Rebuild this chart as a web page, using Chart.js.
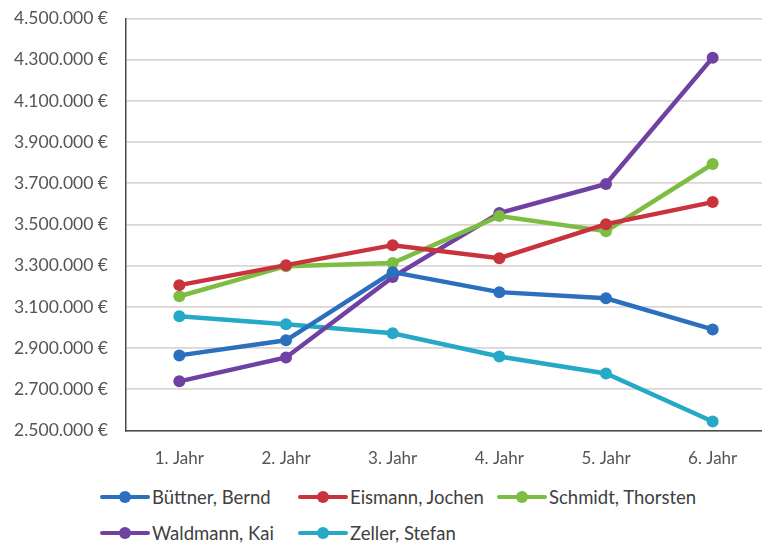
<!DOCTYPE html>
<html>
<head>
<meta charset="utf-8">
<script src="https://cdn.jsdelivr.net/npm/chart.js@4"></script>
<style>
  html, body { margin: 0; padding: 0; background: #fff; overflow: hidden; }
  #wrap { position: relative; width: 772px; height: 545px; overflow: hidden; }
  #box { position: absolute; left: 0; top: -10px; width: 772px; height: 489px; }
  #legend { position: absolute; left: 100px; top: 482px; font-family: Lato, "Noto Sans", sans-serif; font-size: 18.5px; color: #404040; }
  .item { position: absolute; display: flex; align-items: center; white-space: nowrap; height: 30px; }
  .mark { position: relative; width: 52px; height: 30px; }
  .mark .ln { position: absolute; left: 0; right: 2px; top: 13px; height: 4px; border-radius: 2px; }
  .mark .dt { position: absolute; left: 19px; top: 9px; width: 12px; height: 12px; border-radius: 50%; }
</style>
</head>
<body>
<div id="wrap">
  <div id="box"><canvas id="chart"></canvas></div>
  <div id="legend"></div>
</div>
<script>
// ==================== DATA ====================
const years = ['1. Jahr', '2. Jahr', '3. Jahr', '4. Jahr', '5. Jahr', '6. Jahr'];

const buettner = [2865000, 2938000, 3269000, 3172000, 3142000, 2991000];
const eismann  = [3206000, 3303000, 3400000, 3337000, 3502000, 3609000];
const schmidt  = [3152000, 3298000, 3313000, 3541000, 3468000, 3794000];
const waldmann = [2739000, 2855000, 3245000, 3556000, 3697000, 4310000];
const zeller   = [3055000, 3016000, 2972000, 2860000, 2777000, 2544000];

const yMin = 2500000;
const yMax = 4500000;
const yStep = 200000;

// ==================== THEME ====================
const COLORS = {
    blue:   '#2b6fbe',
    red:    '#c9333d',
    green:  '#7dbd42',
    purple: '#6f41a3',
    teal:   '#25a9c6',
    text:   '#555555',
    grid:   '#dcd5d5',
    axis:   '#4a4a4a'
};

const series = [
    { label: 'Büttner, Bernd',    data: buettner, color: COLORS.blue },
    { label: 'Eismann, Jochen',   data: eismann,  color: COLORS.red },
    { label: 'Schmidt, Thorsten', data: schmidt,  color: COLORS.green },
    { label: 'Waldmann, Kai',     data: waldmann, color: COLORS.purple },
    { label: 'Zeller, Stefan',    data: zeller,   color: COLORS.teal }
];

// 4500000 -> "4.500.000 €"
function euro(v) {
    return String(Math.round(v)).replace(/\B(?=(\d{3})+(?!\d))/g, '.') + ' €';
}

Chart.defaults.font.family = "Lato, 'Noto Sans', sans-serif";
Chart.defaults.color = COLORS.text;

const ctx = document.getElementById('chart').getContext('2d');
const chart = new Chart(ctx, {
    type: 'line',
    data: {
        labels: years,
        datasets: series.map(s => ({
            label: s.label,
            data: s.data,
            borderColor: s.color,
            backgroundColor: s.color,
            borderWidth: 4.5,
            pointRadius: 6,
            pointBorderWidth: 0,
            pointBackgroundColor: s.color,
            tension: 0,
            fill: false
        }))
    },
    options: {
        responsive: true,
        maintainAspectRatio: false,
        animation: false,
        layout: { padding: { top: 0, left: 0, right: 0, bottom: 0 } },
        plugins: {
            legend: { display: false },
            tooltip: { enabled: false }
        },
        scales: {
            x: {
                offset: true,
                grid: { display: false },
                border: { color: COLORS.axis, width: 1.5 },
                ticks: { font: { size: 17 }, padding: 10, color: COLORS.text }
            },
            y: {
                min: yMin,
                max: yMax,
                ticks: {
                    stepSize: yStep,
                    font: { size: 17.5 },
                    padding: 18,
                    color: COLORS.text,
                    callback: v => euro(v)
                },
                grid: { color: COLORS.grid, lineWidth: 1.8, drawTicks: false },
                border: { color: COLORS.axis, width: 1.5 },
                afterFit: scale => { scale.width = 126; }
            }
        }
    }
});

// ==================== HTML LEGEND ====================
const legendCols = [0, 198, 397];
const legendRows = [0, 36];
const legendEl = document.getElementById('legend');
series.forEach((s, i) => {
    const item = document.createElement('div');
    item.className = 'item';
    item.style.left = legendCols[i % 3] + 'px';
    item.style.top = legendRows[Math.floor(i / 3)] + 'px';
    item.innerHTML = `<div class="mark"><div class="ln" style="background:${s.color}"></div>` +
        `<div class="dt" style="background:${s.color}"></div></div><span>${s.label}</span>`;
    legendEl.appendChild(item);
});
</script>
</body>
</html>
